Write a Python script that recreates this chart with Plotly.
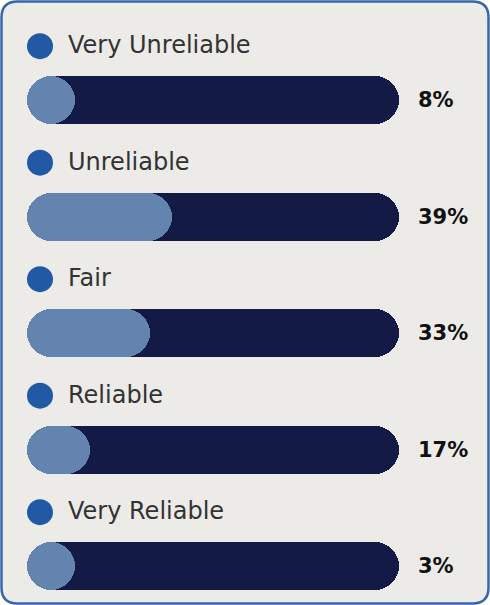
import plotly.graph_objects as go

# Survey answers: how reliable respondents find the service
categories = ["Very Unreliable", "Unreliable", "Fair", "Reliable", "Very Reliable"]
percentages = [8, 39, 33, 17, 3]
value_labels = ["8%", "39%", "33%", "17%", "3%"]

W, H = 490, 605
TRACK_PX = 372          # pixel length of a full (100%) track
LEFT_PX = 27            # pixel where the tracks start
ROW_PX = 116.5          # vertical distance between rows
FIRST_ROW_PX = 100      # centre of the first track
BAR_PX = 48             # track thickness

px_per_unit = TRACK_PX / 100.0
x_range = [-LEFT_PX / px_per_unit, (W - LEFT_PX) / px_per_unit]
y_top = -FIRST_ROW_PX / ROW_PX
y_bottom = (H - FIRST_ROW_PX) / ROW_PX

NAVY = "#121a45"
FILL = "#6384ae"
DOT = "#2159a5"
CARD_BG = "#ecebe8"
BORDER = "#3667ab"

rows = list(range(len(categories)))
bar_w = BAR_PX / ROW_PX
# the filled part never gets shorter than its rounded end cap
knob = BAR_PX / TRACK_PX * 100
fill_len = [max(p, knob) for p in percentages]

fig = go.Figure()

# an explicit base makes plotly round both ends of each bar -> pill shape
fig.add_trace(go.Bar(
    y=rows, x=[100] * len(rows), base=[0] * len(rows), orientation="h", width=bar_w,
    marker=dict(color=NAVY, cornerradius=BAR_PX // 2, line=dict(width=0)),
    hoverinfo="skip", showlegend=False,
))
fig.add_trace(go.Bar(
    y=rows, x=fill_len, base=[0] * len(rows), orientation="h", width=bar_w,
    marker=dict(color=FILL, cornerradius=BAR_PX // 2, line=dict(width=0)),
    customdata=percentages, hovertemplate="%{customdata}%<extra></extra>",
    showlegend=False,
))

label_offset = 55 / ROW_PX
fig.add_trace(go.Scatter(
    x=[13 / px_per_unit] * len(rows), y=[r - label_offset + 0.01 for r in rows],
    mode="markers", marker=dict(size=26, color=DOT, line=dict(width=0)),
    hoverinfo="skip", showlegend=False,
))

for r, cat, val in zip(rows, categories, value_labels):
    fig.add_annotation(
        x=39 / px_per_unit, y=r - label_offset, text=cat, showarrow=False,
        xanchor="left", yanchor="middle",
        font=dict(family="DejaVu Sans", size=24, color="#333333"),
    )
    fig.add_annotation(
        x=(416 - LEFT_PX) / px_per_unit, y=r, text=f"<b>{val}</b>", showarrow=False,
        xanchor="left", yanchor="middle",
        font=dict(family="DejaVu Sans", size=21, color="#111111"),
    )

# rounded card outline
x0, x1 = 1.5 / W, (W - 1.5) / W
y0, y1 = 1.5 / H, (H - 1.5) / H
rx, ry = 16 / W, 16 / H
path = (
    f"M {x0 + rx},{y0} L {x1 - rx},{y0} Q {x1},{y0} {x1},{y0 + ry} "
    f"L {x1},{y1 - ry} Q {x1},{y1} {x1 - rx},{y1} "
    f"L {x0 + rx},{y1} Q {x0},{y1} {x0},{y1 - ry} "
    f"L {x0},{y0 + ry} Q {x0},{y0} {x0 + rx},{y0} Z"
)
fig.add_shape(type="path", xref="paper", yref="paper", path=path,
              fillcolor=CARD_BG, line=dict(color=BORDER, width=2.5), layer="below")

fig.update_layout(
    width=W, height=H,
    margin=dict(l=0, r=0, t=0, b=0),
    paper_bgcolor="#ffffff", plot_bgcolor="rgba(0,0,0,0)",
    barmode="overlay", bargap=0,
    xaxis=dict(range=x_range, visible=False, fixedrange=True),
    yaxis=dict(range=[y_bottom, y_top], visible=False, fixedrange=True),
    hovermode="closest",
)

fig.write_html("out.html")
